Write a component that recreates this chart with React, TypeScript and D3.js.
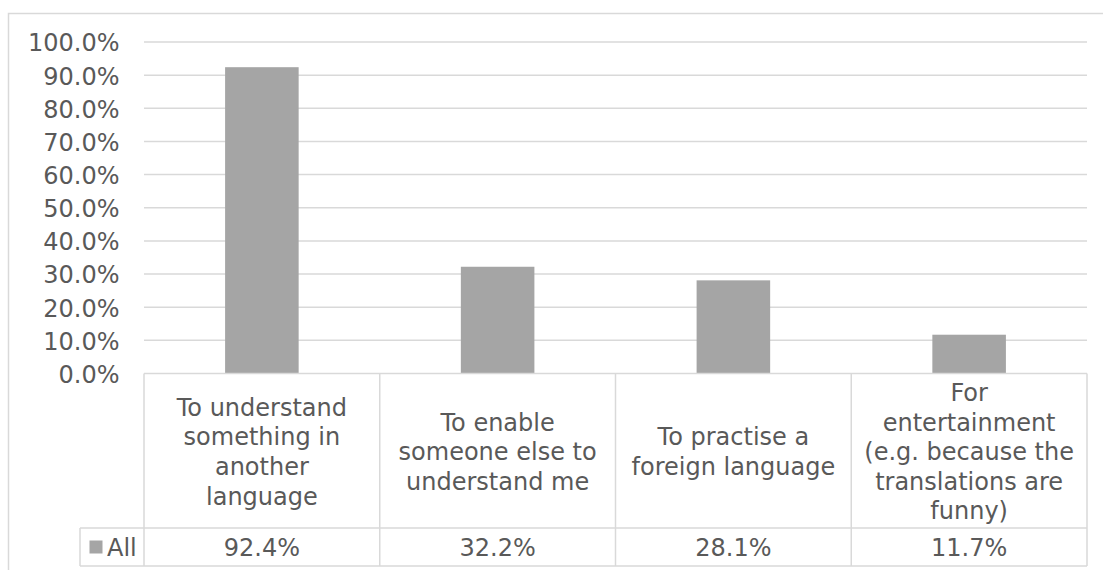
import React from "react";
import * as d3 from "d3";

// Reasons for using machine translation, share of respondents ("All")
const categories: string[][] = [
  ["To understand", "something in", "another", "language"],
  ["To enable", "someone else to", "understand me"],
  ["To practise a", "foreign language"],
  ["For", "entertainment", "(e.g. because the", "translations are", "funny)"],
];
const values: number[] = [0.924, 0.322, 0.281, 0.117];
const seriesName = "All";
const yTicks: number[] = [0, 0.1, 0.2, 0.3, 0.4, 0.5, 0.6, 0.7, 0.8, 0.9, 1.0];

const W = 1103;
const H = 570;
const FONT = "'DejaVu Sans', Verdana, sans-serif";
const TEXT = "#595959";
const GRID = "#d9d9d9";
const BAR = "#a5a5a5";

export default function App() {
  const plotLeft = 144;
  const plotRight = 1087;
  const plotTop = 42;
  const plotBottom = 373.5;
  const catRowBottom = 528;
  const tableBottom = 566;
  const legendLeft = 80;
  const fs = 24;
  const lh = 29.6;
  const base = 9.4;

  const y = d3.scaleLinear().domain([0, 1]).range([plotBottom, plotTop]);
  const cols = d3.scaleBand<number>().domain(d3.range(categories.length)).range([plotLeft, plotRight]);
  const bars = d3
    .scaleBand<number>()
    .domain(d3.range(categories.length))
    .range([plotLeft, plotRight])
    .paddingInner(0.688)
    .paddingOuter(0.344);
  const fmt = d3.format(".1%");
  const step = cols.step();

  return (
    <svg
      width={W}
      height={H}
      style={{ position: "absolute", left: 0, top: 0, background: "#fff" }}
      fontFamily={FONT}
    >
      <rect x={0} y={0} width={W} height={H} fill="#fff" />
      {/* chart frame */}
      <rect x={8.5} y={13.5} width={1110} height={570} fill="none" stroke={GRID} strokeWidth={1.5} />

      {/* gridlines and y tick labels */}
      {yTicks.map((t) => (
        <g key={t}>
          {t > 0 && (
            <line x1={plotLeft} x2={plotRight} y1={y(t)} y2={y(t)} stroke={GRID} strokeWidth={1.5} />
          )}
          <text x={119.5} y={y(t) + base} textAnchor="end" fontSize={fs} fill={TEXT}>
            {fmt(t)}
          </text>
        </g>
      ))}

      {/* bars */}
      {values.map((v, i) => (
        <rect key={i} x={bars(i)} y={y(v)} width={bars.bandwidth()} height={y(0) - y(v)} fill={BAR} />
      ))}

      {/* data table */}
      <g stroke={GRID} strokeWidth={1.5} fill="none">
        <line x1={plotLeft} x2={plotRight} y1={plotBottom} y2={plotBottom} />
        <line x1={legendLeft} x2={plotRight} y1={catRowBottom} y2={catRowBottom} />
        <line x1={legendLeft} x2={plotRight} y1={tableBottom} y2={tableBottom} />
        <line x1={legendLeft} x2={legendLeft} y1={catRowBottom} y2={tableBottom} />
        {d3.range(categories.length + 1).map((i) => {
          const x = plotLeft + i * step;
          return <line key={i} x1={x} x2={x} y1={plotBottom} y2={tableBottom} />;
        })}
      </g>

      {categories.map((lines, i) => {
        const cx = (cols(i) as number) + step / 2;
        const mid = (plotBottom + catRowBottom) / 2;
        const first = mid - ((lines.length - 1) / 2) * lh + base;
        return (
          <text key={i} textAnchor="middle" fontSize={fs} fill={TEXT}>
            {lines.map((ln, j) => (
              <tspan key={j} x={cx} y={first + j * lh}>
                {ln}
              </tspan>
            ))}
          </text>
        );
      })}

      {values.map((v, i) => (
        <text
          key={i}
          x={(cols(i) as number) + step / 2}
          y={(catRowBottom + tableBottom) / 2 + base}
          textAnchor="middle"
          fontSize={fs}
          fill={TEXT}
        >
          {fmt(v)}
        </text>
      ))}

      {/* legend key inside table */}
      <rect x={89.5} y={540.5} width={13} height={13} fill={BAR} />
      <text x={107} y={(catRowBottom + tableBottom) / 2 + base} fontSize={fs} fill={TEXT}>
        {seriesName}
      </text>
    </svg>
  );
}
